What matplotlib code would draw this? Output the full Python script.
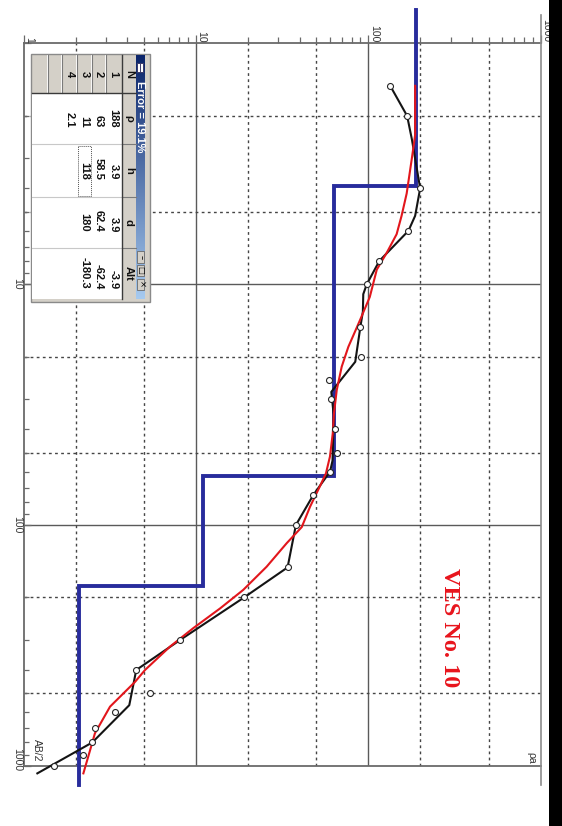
import numpy as np
import matplotlib
matplotlib.use("Agg")
import matplotlib.pyplot as plt
from matplotlib.patches import Rectangle
from matplotlib.ticker import FixedLocator, LogLocator, NullFormatter
from matplotlib.transforms import blended_transform_factory, offset_copy

plt.rcParams['font.family'] = ['Liberation Sans', 'DejaVu Sans']

# ---- sounding data: AB/2 (m) against apparent resistivity (Ohm.m) ----
ab2_obs = [1.5, 2, 4, 6, 8, 10, 15, 20, 25, 30, 40, 50, 60, 75, 100,
           150, 200, 300, 400, 500, 600, 700, 800, 900, 1000]
rho_obs = [134, 168, 200, 171, 116, 98, 90, 91, 59, 61, 64, 66, 60, 48, 38,
           34, 19, 8.1, 4.5, 5.4, 3.4, 2.6, 2.5, 2.2, 1.5]

# edited field curve
ab2_field = [1.5, 2, 2.5, 4, 5.2, 6, 8, 10, 11, 13, 15, 21, 28, 35, 54, 60,
             75, 100, 150, 200, 300, 400, 560, 800, 1075]
rho_field = [134, 168, 179, 200, 187, 171, 116, 98, 93.5, 93, 90, 84, 61, 63,
             62, 60, 48, 38, 34, 19, 8.1, 4.5, 4.1, 2.5, 1.2]

# model response curve
ab2_model = [1.5, 2.4, 3.0, 4.2, 5.2, 6.2, 7.4, 8.7, 11.3, 14.1, 18.2, 22,
             27.5, 34.4, 41.6, 52, 61, 69, 84, 102, 119, 149, 186, 222, 268,
             320, 400, 448, 568, 733, 860, 1075]
rho_model = [187, 187, 179, 167, 156, 146, 128, 112, 102, 89.5, 76.6, 70.1,
             65.6, 63.2, 62.2, 59.9, 56.8, 52.4, 45.9, 41.1, 33.6, 25.7, 18.8,
             13.8, 9.65, 7.06, 5.06, 4.43, 3.17, 2.59, 2.43, 2.22]

# layered model (inversion result)
layer_n = [1, 2, 3, 4]
layer_rho = [188, 63, 11, 2.1]
layer_h = [3.9, 58.5, 118]
layer_d = [3.9, 62.4, 180]
layer_alt = [-3.9, -62.4, -180.3]
fit_error = 19.1
model_top, model_bottom = 0.73, 1200

axis_ticks = [1, 10, 100, 1000]
x_ticklabels = ['1', '10', '100', '1000']
y_ticklabels = ['', '10', '100', '1000']
grid_major = [10, 100]
grid_minor = [2, 5, 20, 50, 200, 500]

W, H = 562, 826
fig = plt.figure(figsize=(W / 100, H / 100), dpi=100)
fig.patch.set_facecolor('white')

x0, x1, y0, y1 = 23.7, 540.6, 43.4, 765.8
ax = fig.add_axes([x0 / W, 1 - y1 / H, (x1 - x0) / W, (y1 - y0) / H])
ax.set_xscale('log')
ax.set_yscale('log')
ax.set_xlim(1, 1000)
ax.set_ylim(1000, 1)

spine_c = '#6a6a6a'
for side in ['left', 'top', 'bottom']:
    ax.spines[side].set_color(spine_c)
    ax.spines[side].set_linewidth(1.3)
ax.spines['right'].set_visible(False)

# grid
for v in grid_major:
    ax.axvline(v, color='#5a5a5a', lw=1.0, zorder=1)
    ax.axhline(v, color='#5a5a5a', lw=1.0, zorder=1)
for v in grid_minor:
    ax.axvline(v, color='#454545', lw=1.0, ls=(0, (2, 2.4)), zorder=1)
    ax.axhline(v, color='#454545', lw=1.0, ls=(0, (2, 2.4)), zorder=1)

# ticks
ax.xaxis.tick_top()
ax.xaxis.set_major_locator(FixedLocator(axis_ticks))
ax.yaxis.set_major_locator(FixedLocator(axis_ticks))
ax.xaxis.set_minor_locator(LogLocator(base=10, subs=range(2, 10)))
ax.yaxis.set_minor_locator(LogLocator(base=10, subs=range(2, 10)))
ax.xaxis.set_major_formatter(NullFormatter())
ax.yaxis.set_major_formatter(NullFormatter())
ax.xaxis.set_minor_formatter(NullFormatter())
ax.yaxis.set_minor_formatter(NullFormatter())
ax.tick_params(axis='x', which='major', direction='out', length=6, width=0.9,
               color=spine_c, top=True, bottom=False)
ax.tick_params(axis='x', which='minor', direction='out', length=4, width=0.9,
               color=spine_c, top=True, bottom=False)
ax.tick_params(axis='y', which='major', direction='in', length=5, width=0.9,
               color=spine_c, left=True, right=False)
ax.tick_params(axis='y', which='minor', direction='in', length=3.5, width=0.9,
               color=spine_c, left=True, right=False)

lab_kw = dict(rotation=-90, fontsize=7.5, color='#333333', clip_on=False)
tr_top = blended_transform_factory(ax.transData, ax.transAxes)
for v, s in zip(axis_ticks, x_ticklabels):
    ax.text(v, 1, s, transform=offset_copy(tr_top, fig=fig, x=0.5, y=1, units='dots'),
            ha='left', va='bottom', **lab_kw)
tr_left = blended_transform_factory(ax.transAxes, ax.transData)
for v, s in zip(axis_ticks, y_ticklabels):
    if not s:
        continue
    last = v == axis_ticks[-1]
    ax.text(0, v, s, transform=offset_copy(tr_left, fig=fig, x=-1,
                                           y=-5 if last else 0, units='dots'),
            ha='right', va='bottom' if last else 'center', **lab_kw)

# layered model as a step line
edges = [model_top] + layer_d + [model_bottom]
step_x, step_y = [], []
for i, r in enumerate(layer_rho):
    step_x += [r, r]
    step_y += [edges[i], edges[i + 1]]
ax.plot(step_x, step_y, color='#282c9c', lw=2.8, clip_on=False, zorder=3,
        solid_joinstyle='miter')

ax.plot(rho_field, ab2_field, color='#141414', lw=1.5, clip_on=False, zorder=4)
ax.plot(rho_model, ab2_model, color='#e2161c', lw=1.5, clip_on=False, zorder=5)
ax.plot(rho_obs, ab2_obs, 'o', ms=4.3, mfc='white', mec='#262626', mew=0.8,
        zorder=6, clip_on=False)

# ---- overlay in pixel units for frame, captions and the layer window ----
ov = fig.add_axes([0, 0, 1, 1], zorder=10)
ov.patch.set_alpha(0)
ov.axis('off')

ov.plot([x1, x1], [15, 785], color='#8c8c8c', lw=1.2)
ov.add_patch(Rectangle((549, 0), 13, H, color='black', lw=0))

ov.text(449, 628, 'VES No. 10', rotation=-90, color='#e8141c', fontsize=17.5,
        fontweight='bold', family=['Liberation Serif', 'DejaVu Serif'],
        ha='center', va='center')
ov.text(531, 758, 'ρa', rotation=-90, fontsize=7.5, color='#333333',
        ha='center', va='center')
ov.text(36.5, 750, 'AB/2', rotation=-90, fontsize=7.5, color='#333333',
        ha='center', va='center')

# window frame
wx0, wx1, wy0, wy1 = 31, 150, 54, 302
gray = '#d4d0c8'
ov.add_patch(Rectangle((wx0, wy0), wx1 - wx0, wy1 - wy0, fc=gray, ec='#8a8a8a',
                       lw=1.0, zorder=1))
# title bar with gradient
tb_x0, tb_x1, tb_y0, tb_y1 = 136, 144.6, 55, 299
c_top = np.array([10, 36, 106]) / 255
c_bot = np.array([166, 202, 240]) / 255
t = np.linspace(0, 1, 256)[:, None, None]
grad = c_top * (1 - t) + c_bot * t
ov.imshow(grad, extent=[tb_x0, tb_x1, tb_y1, tb_y0], origin='upper',
          aspect='auto', zorder=2, interpolation='bilinear')
ov.text(140.4, 81, 'Error = %.1f%%' % fit_error, rotation=-90, color='white',
        fontsize=8, fontweight='bold', ha='center', va='top', zorder=4)
# window icon
ov.add_patch(Rectangle((137.3, 62.5), 6, 9, fc='white', ec='#3a3a6a', lw=0.7, zorder=4))
ov.plot([139.5, 139.5], [62.5, 71.5], color='#3a3a6a', lw=0.7, zorder=5)
# caption buttons
for by, glyph in zip([251, 264.5, 278.5], ['–', '□', '×']):
    ov.add_patch(Rectangle((137.2, by), 7.2, 11.5, fc=gray, ec='#6a6a6a', lw=0.6, zorder=4))
    ov.text(140.8, by + 5.75, glyph, rotation=-90, fontsize=6, color='black',
            ha='center', va='center', zorder=5, family=['DejaVu Sans'])

# table body
hx0, hx1 = 121.7, 136
ty0, ty1 = 55, 299
sep_y = [93.3, 144.2, 196.7, 248.3]
row_sep_x = [48.3, 62.3, 77.3, 91.7, 106]
ov.add_patch(Rectangle((wx0 + 0.5, sep_y[0]), hx0 - wx0 - 0.5, ty1 - sep_y[0],
                       fc='white', ec='none', zorder=2))
for sx in row_sep_x:
    ov.plot([sx, sx], [ty0, sep_y[0]], color='#7a7a7a', lw=0.8, zorder=3)
    ov.plot([sx - 1, sx - 1], [ty0, sep_y[0]], color='white', lw=0.6, zorder=3)
for sy in sep_y[1:]:
    ov.plot([wx0 + 0.5, hx0], [sy, sy], color='#c8c8c8', lw=0.8, zorder=3)
    ov.plot([hx0, hx1], [sy, sy], color='#7a7a7a', lw=0.8, zorder=3)
ov.plot([hx0, hx0], [ty0, ty1], color='#3a3a3a', lw=1.0, zorder=3)
ov.plot([wx0 + 0.5, hx1], [sep_y[0], sep_y[0]], color='#3a3a3a', lw=1.0, zorder=3)

txt_kw = dict(rotation=-90, fontsize=8, fontweight='bold', color='#111111', zorder=5)
col_centers = [74, 118.7, 170.5, 222.5, 273.5]
for s, cy in zip(['N', 'ρ', 'h', 'd', 'Alt'], col_centers):
    ov.text(128.9, cy, s, ha='center', va='center', **txt_kw)

row_x = [113.6, 98.8, 84.3, 69.5]
for n, rx in zip(layer_n, row_x):
    ov.text(rx, 74, str(n), ha='center', va='center', **txt_kw)

col_ends = [127.5, 179.5, 232, 289]
for values, ye in zip([layer_rho, layer_h, layer_d, layer_alt], col_ends):
    for v, rx in zip(values, row_x):
        ov.text(rx, ye, '%g' % v, ha='center', va='bottom', **txt_kw)

# selected cell marker
ov.add_patch(Rectangle((78, 146), 12.6, 50, fill=False, ec='#555555', lw=0.7,
                       ls=(0, (1, 1)), zorder=4))

ov.set_xlim(0, W)
ov.set_ylim(H, 0)

fig.savefig('out.png', dpi=100, facecolor='white')
